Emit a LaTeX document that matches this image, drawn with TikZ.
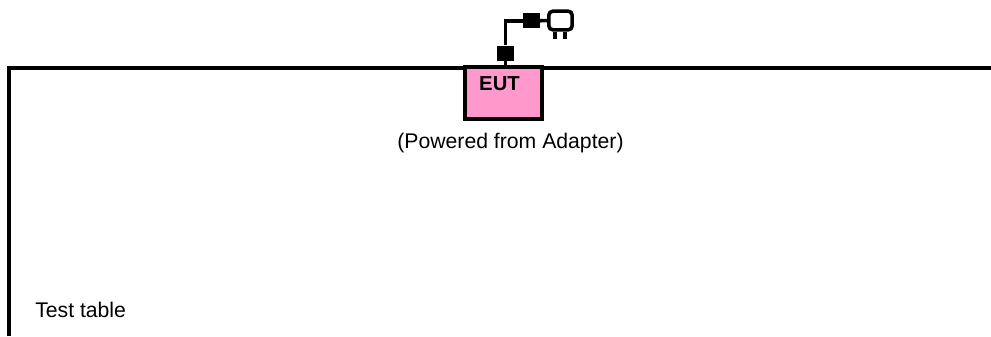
\documentclass[tikz,border=0pt]{standalone}
\usepackage{fontspec}
\setmainfont{Liberation Sans}
\definecolor{eutpink}{HTML}{FF99CC}
\tikzset{
    thick line/.style={line width=3pt},
    cable/.style={line width=2.7pt},
    ferrite/.style={draw=none,fill=black,minimum width=12.4pt,minimum height=11.5pt,inner sep=0pt},
    label/.style={inner sep=0pt,font=\fontsize{15.9pt}{18pt}\selectfont}
}
\begin{document}
\begin{tikzpicture}[x=0.75pt,y=-0.75pt]
    \useasboundingbox (0,0) rectangle (991,336);
    % table
    \draw [thick line] (9,336) -- (9,67.8) -- (991,67.8);
    \node (tablelabel) [label,anchor=west] at (35,309.5) {Test table};
    % EUT
    \node (eut) [draw,thick line,fill=eutpink,minimum width=57.5pt,minimum height=39pt,inner sep=0pt] at (503.4,93.3) {};
    \node (eutlabel) [label,font=\bfseries\fontsize{15.2pt}{18pt}\selectfont] at (499.5,84) {EUT};
    \node (powered) [label] at (510.5,143.5) {(Powered from Adapter)};
    % cable with plug
    \node (ferritea) [ferrite] at (505.5,53.4) {};
    \node (ferriteb) [ferrite] at (531.3,20.8) {};
    \node (plug) [draw,line width=2.7pt,rounded corners=3pt,minimum width=17.5pt,minimum height=14pt,inner sep=0pt] at (560.5,20.5) {};
    \draw [cable] (ferritea) -- (ferritea|-eut.north);
    \draw [cable] (ferritea) |- (ferriteb);
    \draw [cable] (ferriteb) -- (plug);
    \draw [cable] ([xshift=-4pt]plug.south) -- ++(0,7);
    \draw [cable] ([xshift=3.5pt]plug.south) -- ++(0,7);
\end{tikzpicture}
\end{document}
